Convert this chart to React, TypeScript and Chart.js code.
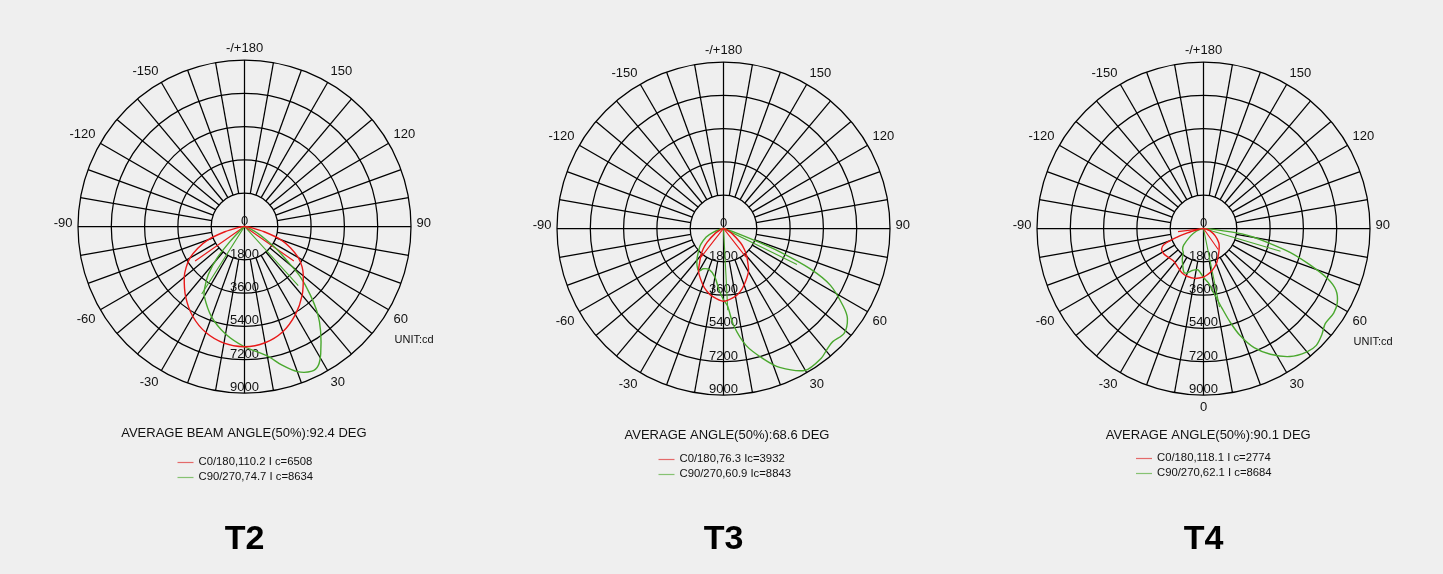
import React, { useEffect, useRef } from "react";
import { Chart, registerables } from "chart.js";

Chart.register(...registerables);

// ---------- shared axis data ----------
const MAX_CD = 9000;
const RING_VALUES = [1800, 3600, 5400, 7200, 9000];
const RADIAL_LABELS = ["0", "1800", "3600", "5400", "7200", "9000"];
const SPOKE_STEP = 10;
const ANGLE_TICKS = [180, 150, 120, 90, 60, 30, -30, -60, -90, -120, -150];
const ANGLE_LABELS = ["-/+180", "150", "120", "90", "60", "30", "-30", "-60", "-90", "-120", "-150"];
const PANEL_NAMES = ["T2", "T3", "T4"];

// ---------- T2 ----------
const T2_C0_ANGLES = [-90, -85, -80, -75, -70, -65, -60, -55, -50, -40, -30, -20, -10, 0, 10, 20, 30, 40, 50, 55, 60, 65, 70, 75, 80, 85, 90];
const T2_C0_CD = [0, 100, 400, 1100, 2100, 2800, 3400, 3850, 4250, 4950, 5600, 6100, 6400, 6500, 6380, 6050, 5500, 4850, 4150, 3800, 3350, 2750, 2100, 1100, 400, 100, 0];
const T2_C90_ANGLES = [-90, -70, -55, -48, -44, -41, -37, -33, -30, -20, -10, 0, 10, 15, 20, 25, 28, 31, 36, 40, 44, 48, 51, 55, 58, 62, 67, 75, 90];
const T2_C90_CD = [0, 0, 50, 250, 1100, 2250, 3250, 3950, 4350, 5200, 5900, 6500, 7100, 7750, 8350, 8630, 8500, 8000, 7000, 6150, 5100, 4050, 3000, 2100, 1450, 900, 400, 100, 0];
const T2_BEAM_C0 = [-55.1, 55.1];
const T2_BEAM_C90 = [-32.4, 42.3];
const T2_IC_C0 = 6508;
const T2_IC_C90 = 8634;
const T2_TITLE = "AVERAGE BEAM ANGLE(50%):92.4 DEG";
const T2_LEGEND = ["C0/180,110.2 I c=6508", "C90/270,74.7 I c=8634"];

// ---------- T3 ----------
const T3_C0_ANGLES = [-90, -80, -70, -60, -50, -45, -40, -35, -30, -20, -15, -10, 0, 10, 15, 20, 30, 35, 40, 45, 50, 60, 70, 80, 90];
const T3_C0_CD = [0, 50, 150, 500, 1150, 1550, 1900, 2250, 2700, 3250, 3500, 3700, 3930, 3720, 3520, 3250, 2700, 2300, 1950, 1600, 1200, 500, 150, 50, 0];
const T3_C90_ANGLES = [-90, -80, -70, -64, -55, -50, -40, -32, -29, -27, -19, -10, -4, 0, 3, 6, 11, 17, 22, 30, 37, 41, 44, 49, 54, 57, 62, 65, 67.5, 69, 72, 80, 90];
const T3_C90_CD = [0, 150, 600, 1040, 1500, 1720, 2240, 2620, 2600, 2440, 2350, 2670, 3350, 3850, 4200, 5270, 6450, 7370, 8100, 8850, 8780, 8580, 8500, 8640, 8280, 7720, 6550, 5200, 3300, 1800, 500, 100, 0];
const T3_BEAM_C0 = [-38.15, 38.15];
const T3_BEAM_C90 = [3, 63.9];
const T3_IC_C0 = 3932;
const T3_IC_C90 = 8843;
const T3_TITLE = "AVERAGE ANGLE(50%):68.6 DEG";
const T3_LEGEND = ["C0/180,76.3 Ic=3932", "C90/270,60.9 Ic=8843"];

// ---------- T4 ----------
const T4_C0_ANGLES = [-90, -85, -80, -75, -72, -68, -64, -58, -50, -43, -35, -26, -19, -10, 0, 5, 11, 20, 30, 40, 47, 58, 70, 80, 90];
const T4_C0_CD = [0, 100, 300, 900, 1500, 2300, 2520, 2550, 2450, 2390, 2480, 2660, 2730, 2740, 2620, 2500, 2340, 2030, 1620, 1320, 1130, 750, 380, 150, 0];
const T4_C90_ANGLES = [-90, -80, -70, -60, -50, -45, -40, -35, -30, -24, -20, -15, -8, -3, 0, 5, 10, 13, 16, 19, 23, 28, 34, 40, 44, 48, 52, 57, 61, 65, 68, 71, 74.5, 77.5, 80, 82, 83.5, 86, 90];
const T4_C90_CD = [0, 150, 400, 800, 1400, 1600, 1700, 2000, 2250, 2600, 2550, 2350, 2250, 2450, 2650, 2940, 3700, 4400, 5300, 6150, 7000, 7700, 8350, 8700, 8780, 8600, 8350, 8390, 8270, 7900, 7230, 6130, 4880, 3600, 2800, 2100, 1000, 300, 0];
const T4_BEAM_C0 = [-83.1, 35];
const T4_BEAM_C90 = [11.5, 73.6];
const T4_IC_C0 = 2774;
const T4_IC_C90 = 8684;
const T4_TITLE = "AVERAGE ANGLE(50%):90.1 DEG";
const T4_LEGEND = ["C0/180,118.1 I c=2774", "C90/270,62.1 I c=8684"];

// ---------- styling / layout ----------
const PANEL_W = 481;
const PANEL_H = 574;
const RADIUS_PX = 166.5;
const RED = "#e81818";
const GREEN = "#4aa82e";
const RED_LEGEND = "#e46a6a";
const GREEN_LEGEND = "#86c272";
const GRID = "#000000";
const TEXT = "#111111";
const FONT = "'Liberation Sans', Arial, Helvetica, sans-serif";

type Panel = {
  name: string;
  c0Angles: number[]; c0Cd: number[];
  c90Angles: number[]; c90Cd: number[];
  beamC0: number[]; beamC90: number[];
  icC0: number; icC90: number;
  title: string; legend: string[];
  cx: number; cy: number;
  titleDx: number; legendDx: number; legendDy: number;
  showUnit: boolean; showBottomZero: boolean;
};

const PANELS: Panel[] = [
  {
    name: PANEL_NAMES[0], c0Angles: T2_C0_ANGLES, c0Cd: T2_C0_CD, c90Angles: T2_C90_ANGLES, c90Cd: T2_C90_CD,
    beamC0: T2_BEAM_C0, beamC90: T2_BEAM_C90, icC0: T2_IC_C0, icC90: T2_IC_C90, title: T2_TITLE, legend: T2_LEGEND,
    cx: 244.5, cy: 226.5, titleDx: -0.6, legendDx: 0, legendDy: 235, showUnit: true, showBottomZero: false,
  },
  {
    name: PANEL_NAMES[1], c0Angles: T3_C0_ANGLES, c0Cd: T3_C0_CD, c90Angles: T3_C90_ANGLES, c90Cd: T3_C90_CD,
    beamC0: T3_BEAM_C0, beamC90: T3_BEAM_C90, icC0: T3_IC_C0, icC90: T3_IC_C90, title: T3_TITLE, legend: T3_LEGEND,
    cx: 242.5, cy: 228.5, titleDx: 3.5, legendDx: 2, legendDy: 230, showUnit: false, showBottomZero: false,
  },
  {
    name: PANEL_NAMES[2], c0Angles: T4_C0_ANGLES, c0Cd: T4_C0_CD, c90Angles: T4_C90_ANGLES, c90Cd: T4_C90_CD,
    beamC0: T4_BEAM_C0, beamC90: T4_BEAM_C90, icC0: T4_IC_C0, icC90: T4_IC_C90, title: T4_TITLE, legend: T4_LEGEND,
    cx: 241.5, cy: 228.5, titleDx: 4.7, legendDx: -0.5, legendDy: 229, showUnit: true, showBottomZero: true,
  },
];

const toXY = (angleDeg: number, cd: number) => {
  const r = (angleDeg * Math.PI) / 180;
  return { x: cd * Math.sin(r), y: -cd * Math.cos(r) };
};

function PanelChart({ panel, left }: { panel: Panel; left: number }) {
  const ref = useRef<HTMLCanvasElement | null>(null);

  useEffect(() => {
    const canvas = ref.current;
    if (!canvas) return;

    const curve = (angles: number[], cd: number[]) => angles.map((a, i) => toXY(a, cd[i]));
    const beam = (edges: number[], ic: number) => [toXY(edges[0], ic / 2), { x: 0, y: 0 }, toXY(edges[1], ic / 2)];

    const gridPlugin = {
      id: "polarGrid",
      beforeDatasetsDraw(chart: any) {
        const ctx = chart.ctx as CanvasRenderingContext2D;
        const xs = chart.scales.x;
        const ys = chart.scales.y;
        const cx = xs.getPixelForValue(0);
        const cy = ys.getPixelForValue(0);
        const k = (xs.getPixelForValue(MAX_CD) - cx) / MAX_CD;
        const R = MAX_CD * k;
        ctx.save();
        ctx.strokeStyle = GRID;
        ctx.lineWidth = 1.25;
        RING_VALUES.forEach((v) => {
          ctx.beginPath();
          ctx.arc(cx, cy, v * k, 0, Math.PI * 2);
          ctx.stroke();
        });
        const inner = RING_VALUES[0] * k;
        for (let a = -180; a < 180; a += SPOKE_STEP) {
          const rad = (a * Math.PI) / 180;
          const s = Math.sin(rad);
          const c = Math.cos(rad);
          const r0 = a % 90 === 0 ? 0 : inner;
          ctx.beginPath();
          ctx.moveTo(cx + r0 * s, cy + r0 * c);
          ctx.lineTo(cx + R * s, cy + R * c);
          ctx.stroke();
        }
        ctx.fillStyle = TEXT;
        ctx.font = `13px ${FONT}`;
        ctx.textAlign = "center";
        ctx.textBaseline = "alphabetic";
        RADIAL_LABELS.forEach((lab, i) => {
          const v = i === 0 ? 0 : RING_VALUES[i - 1];
          ctx.fillText(lab, cx, cy + v * k - 2);
        });
        const lr = R + 5.5;
        const ticks = panel.showBottomZero ? [...ANGLE_TICKS, 0] : ANGLE_TICKS;
        const labels = panel.showBottomZero ? [...ANGLE_LABELS, "0"] : ANGLE_LABELS;
        ticks.forEach((a, i) => {
          const rad = (a * Math.PI) / 180;
          const x = cx + lr * Math.sin(rad);
          const y = cy + lr * Math.cos(rad);
          const abs = Math.abs(a);
          ctx.textAlign = abs === 0 || abs === 180 ? "center" : a > 0 ? "left" : "right";
          ctx.textBaseline = abs === 90 ? "alphabetic" : abs > 90 ? "bottom" : "top";
          ctx.fillText(labels[i], x, y);
        });
        if (panel.showUnit) {
          ctx.font = `11px ${FONT}`;
          ctx.textAlign = "left";
          ctx.textBaseline = "middle";
          ctx.fillText("UNIT:cd", cx + 150, cy + 113);
        }
        ctx.restore();
      },
      afterDraw(chart: any) {
        const ctx = chart.ctx as CanvasRenderingContext2D;
        const cx = chart.scales.x.getPixelForValue(0);
        const cy = chart.scales.y.getPixelForValue(0);
        ctx.save();
        ctx.fillStyle = TEXT;
        ctx.font = `13px ${FONT}`;
        ctx.textAlign = "center";
        ctx.textBaseline = "middle";
        ctx.fillText(panel.title, cx + panel.titleDx, cy + 207);
        const colors = [RED_LEGEND, GREEN_LEGEND];
        ctx.font = `11.3px ${FONT}`;
        ctx.textAlign = "left";
        panel.legend.forEach((t, i) => {
          const y = cy + panel.legendDy + i * 15;
          ctx.strokeStyle = colors[i];
          ctx.lineWidth = 1.2;
          ctx.beginPath();
          ctx.moveTo(cx - 67 + panel.legendDx, Math.round(y) + 0.5);
          ctx.lineTo(cx - 51 + panel.legendDx, Math.round(y) + 0.5);
          ctx.stroke();
          ctx.fillStyle = TEXT;
          ctx.fillText(t, cx - 46 + panel.legendDx, y);
        });
        ctx.font = `bold 34px ${FONT}`;
        ctx.textAlign = "center";
        ctx.fillStyle = "#000";
        ctx.fillText(panel.name, cx, 540);
        ctx.restore();
      },
    };

    const lineDs = (data: any[], color: string, tension: number, width: number) => ({
      data,
      showLine: true,
      borderColor: color,
      backgroundColor: color,
      borderWidth: width,
      pointRadius: 0,
      pointHoverRadius: 0,
      fill: false,
      tension,
      clip: false as any,
    });

    const chart = new Chart(canvas, {
      type: "scatter",
      data: {
        datasets: [
          lineDs(curve(panel.c0Angles, panel.c0Cd), RED, 0.3, 1.4),
          lineDs(curve(panel.c90Angles, panel.c90Cd), GREEN, 0.3, 1.4),
          lineDs(beam(panel.beamC0, panel.icC0), RED, 0, 1.1),
          lineDs(beam(panel.beamC90, panel.icC90), GREEN, 0, 1.1),
        ],
      },
      options: {
        animation: false,
        responsive: false,
        maintainAspectRatio: false,
        events: [],
        layout: {
          padding: {
            left: panel.cx - RADIUS_PX,
            right: PANEL_W - panel.cx - RADIUS_PX,
            top: panel.cy - RADIUS_PX,
            bottom: PANEL_H - panel.cy - RADIUS_PX,
          },
        },
        scales: {
          x: { type: "linear", min: -MAX_CD, max: MAX_CD, display: false },
          y: { type: "linear", min: -MAX_CD, max: MAX_CD, display: false },
        },
        plugins: { legend: { display: false }, tooltip: { enabled: false }, title: { display: false } },
      },
      plugins: [gridPlugin],
    } as any);

    return () => chart.destroy();
  }, [panel]);

  return (
    <canvas
      ref={ref}
      width={PANEL_W}
      height={PANEL_H}
      style={{ position: "absolute", left, top: 0, width: PANEL_W, height: PANEL_H, display: "block" }}
    />
  );
}

export default function App() {
  useEffect(() => {
    document.body.style.margin = "0";
    document.body.style.background = "#efefef";
  }, []);
  return (
    <div style={{ position: "absolute", left: 0, top: 0, width: 1443, height: 574, background: "#efefef", overflow: "hidden" }}>
      {PANELS.map((p, i) => (
        <PanelChart key={p.name} panel={p} left={i * PANEL_W} />
      ))}
    </div>
  );
}
